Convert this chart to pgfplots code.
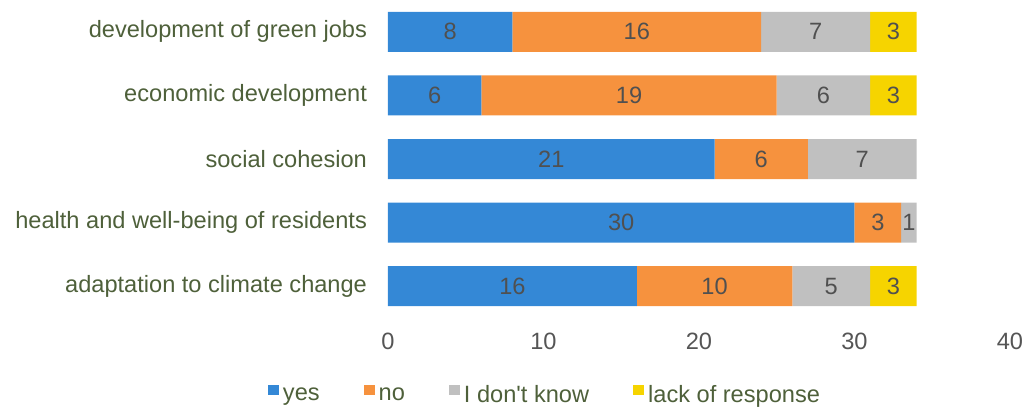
\documentclass[border=0pt]{standalone}
\usepackage{fontspec}
\setmainfont{Liberation Sans}
\usepackage{pgfplots}
\pgfplotsset{compat=1.18}
\definecolor{cyes}{RGB}{52,136,214}
\definecolor{cno}{RGB}{246,146,62}
\definecolor{cdk}{RGB}{192,192,192}
\definecolor{clr}{RGB}{246,212,0}
\definecolor{clab}{RGB}{78,96,58}
\definecolor{ctick}{RGB}{85,85,85}
\definecolor{cnum}{RGB}{80,80,80}
\begin{document}
\begin{tikzpicture}
\useasboundingbox (-194pt,-47pt) rectangle (321pt,159pt);
\begin{axis}[
  at={(0,0)}, anchor=south west,
  scale only axis,
  width=311pt, height=159pt,
  xbar stacked,
  bar width=20pt,
  xmin=0, xmax=40,
  ymin=-0.5, ymax=4.5,
  xtick={0,10,20,30,40},
  ytick={0,1,2,3,4},
  yticklabels={adaptation to climate change, health and well-being of residents, social cohesion, economic development, development of green jobs},
  axis line style={draw=none},
  major tick length=0pt,
  /pgf/number format/assume math mode=true,
  tick label style={font=\fontsize{11.8}{14}\selectfont},
  xticklabel style={text=ctick, yshift=-4pt},
  yticklabel style={text=clab, xshift=-7pt},
  legend style={at={(0.254,-0.245)}, anchor=center, draw=none, fill=none,
    legend columns=4, font=\fontsize{11.8}{14}\selectfont, text=clab,
    /tikz/every even column/.append style={column sep=20pt},
    legend cell align=left},
  legend image code/.code={\fill[#1] (0pt,0.3pt) rectangle (5.5pt,5.3pt);},
  nodes near coords,
  point meta=explicit symbolic,
  every node near coord/.append style={font=\fontsize{11.8}{14}\selectfont, text=cnum, anchor=center},
]
\addplot+[fill=cyes, draw=none] coordinates {(16,0)[16] (30,1)[30] (21,2)[21] (6,3)[6] (8,4)[8]};
\addplot+[fill=cno, draw=none] coordinates {(10,0)[10] (3,1)[3] (6,2)[6] (19,3)[19] (16,4)[16]};
\addplot+[fill=cdk, draw=none] coordinates {(5,0)[5] (1,1)[1] (7,2)[7] (6,3)[6] (7,4)[7]};
\addplot+[fill=clr, draw=none] coordinates {(3,0)[3] (0,1)[{}] (0,2)[{}] (3,3)[3] (3,4)[3]};
\legend{yes, no, I don\textquotesingle t know, lack of response}
\end{axis}
\end{tikzpicture}
\end{document}
